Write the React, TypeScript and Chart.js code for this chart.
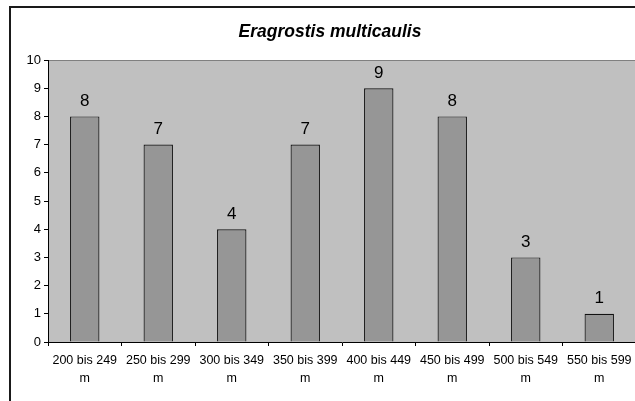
import React, { useEffect, useRef } from "react";
import { Chart, registerables } from "chart.js";

Chart.register(...registerables);

const categories: string[][] = [
  ["200 bis 249", "m"],
  ["250 bis 299", "m"],
  ["300 bis 349", "m"],
  ["350 bis 399", "m"],
  ["400 bis 449", "m"],
  ["450 bis 499", "m"],
  ["500 bis 549", "m"],
  ["550 bis 599", "m"],
];
const counts: number[] = [8, 7, 4, 7, 9, 8, 3, 1];
const chartTitle = "Eragrostis multicaulis";
const yMin = 0;
const yMax = 10;

const FONT = "Arial, 'Liberation Sans', sans-serif";

const plotBgPlugin = {
  id: "plotBg",
  beforeDraw(chart: any) {
    const { ctx, chartArea } = chart;
    ctx.save();
    ctx.fillStyle = "#C0C0C0";
    ctx.fillRect(chartArea.left, chartArea.top, chartArea.right - chartArea.left, chartArea.bottom - chartArea.top);
    ctx.strokeStyle = "#808080";
    ctx.lineWidth = 1;
    ctx.beginPath();
    ctx.moveTo(chartArea.left, chartArea.top + 0.5);
    ctx.lineTo(chartArea.right, chartArea.top + 0.5);
    ctx.stroke();
    ctx.restore();
  },
};

const titlePlugin = {
  id: "frameTitle",
  afterDraw(chart: any) {
    const { ctx } = chart;
    ctx.save();
    ctx.fillStyle = "#000";
    ctx.font = `italic bold 17.5px ${FONT}`;
    ctx.textAlign = "center";
    ctx.textBaseline = "middle";
    ctx.fillText(chartTitle, 330, 32.5);
    ctx.restore();
  },
};

const valueLabelPlugin = {
  id: "valueLabels",
  afterDatasetsDraw(chart: any) {
    const { ctx } = chart;
    const meta = chart.getDatasetMeta(0);
    const data = chart.data.datasets[0].data;
    ctx.save();
    ctx.fillStyle = "#000";
    ctx.font = `17px ${FONT}`;
    ctx.textAlign = "center";
    ctx.textBaseline = "alphabetic";
    meta.data.forEach((bar: any, i: number) => {
      ctx.fillText(String(data[i]), bar.x, bar.y - 10.5);
    });
    ctx.restore();
  },
};

export default function App() {
  const ref = useRef<HTMLCanvasElement | null>(null);

  useEffect(() => {
    if (!ref.current) return;
    const chart = new Chart(ref.current, {
      type: "bar",
      data: {
        labels: categories,
        datasets: [
          {
            data: counts,
            backgroundColor: "#969696",
            borderColor: "#111",
            borderWidth: 1.2,
            barPercentage: 0.4,
            categoryPercentage: 1,
          },
        ],
      },
      options: {
        responsive: false,
        animation: false,
        devicePixelRatio: 1,
        layout: { padding: { top: 60, left: 0, right: 19, bottom: 0 } },
        plugins: {
          legend: { display: false },
          tooltip: { enabled: false },
          title: { display: false },
        },
        scales: {
          x: {
            grid: {
              display: true,
              drawOnChartArea: false,
              drawTicks: true,
              tickLength: 4,
              color: "#000",
              offset: true,
            },
            border: { display: true, color: "#000", width: 1 },
            ticks: {
              color: "#000",
              font: { family: FONT, size: 12.5, lineHeight: 1.4 },
              maxRotation: 0,
              minRotation: 0,
              autoSkip: false,
              padding: 6,
            },
            afterFit(scale: any) {
              scale.height = 78;
            },
          },
          y: {
            min: yMin,
            max: yMax,
            grid: {
              display: true,
              drawOnChartArea: false,
              drawTicks: true,
              tickLength: 4,
              color: "#000",
            },
            border: { display: true, color: "#000", width: 1 },
            ticks: {
              stepSize: 1,
              color: "#000",
              font: { family: FONT, size: 13 },
              padding: 3,
            },
            afterFit(scale: any) {
              scale.width = 48;
            },
          },
        },
      },
      plugins: [plotBgPlugin, valueLabelPlugin, titlePlugin],
    });
    return () => chart.destroy();
  }, []);

  return (
    <div
      style={{
        position: "fixed",
        left: 0,
        top: 0,
        width: 635,
        height: 401,
        overflow: "hidden",
        background: "#fff",
      }}
    >
      <div
        style={{
          position: "absolute",
          left: 9,
          top: 6,
          width: 700,
          height: 500,
          borderTop: "2px solid #1a1a1a",
          borderLeft: "2px solid #1a1a1a",
          boxSizing: "border-box",
        }}
      />
      <canvas
        ref={ref}
        width={655}
        height={420}
        style={{ position: "absolute", left: 0, top: 0, width: 655, height: 420 }}
      />
    </div>
  );
}
